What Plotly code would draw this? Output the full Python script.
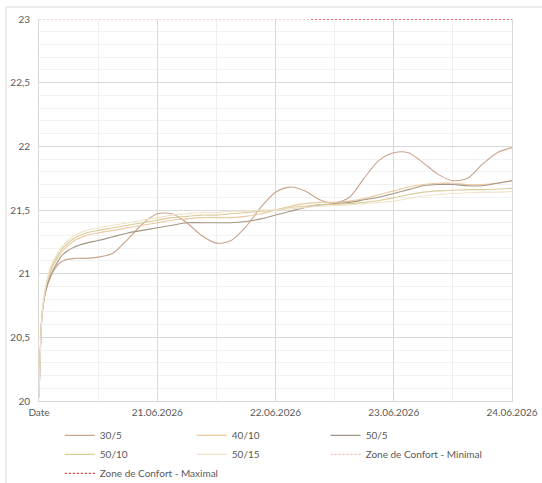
import plotly.graph_objects as go

# time in days from the start ("Date") to 24.06.2026
days = [0, 0.01, 0.02, 0.035, 0.06, 0.1, 0.15, 0.2, 0.3, 0.4, 0.5, 0.625, 0.75, 0.875,
        1.0, 1.125, 1.25, 1.375, 1.5, 1.625, 1.75, 1.875, 2.0, 2.125, 2.25, 2.375, 2.5,
        2.625, 2.75, 2.875, 3.0, 3.125, 3.25, 3.375, 3.5, 3.625, 3.75, 3.875, 4.0]

s_30_5 = [20.03, 20.35, 20.6, 20.75, 20.87, 20.98, 21.06, 21.10, 21.12, 21.12, 21.13, 21.16, 21.27, 21.39,
          21.47, 21.47, 21.40, 21.30, 21.24, 21.26, 21.37, 21.52, 21.64, 21.68, 21.65, 21.58, 21.555,
          21.60, 21.75, 21.89, 21.95, 21.95, 21.87, 21.78, 21.73, 21.75, 21.86, 21.95, 21.99]
s_40_10 = [20.03, 20.35, 20.6, 20.76, 20.90, 21.02, 21.11, 21.18, 21.26, 21.30, 21.32, 21.34, 21.36, 21.38,
           21.40, 21.42, 21.43, 21.44, 21.44, 21.44, 21.45, 21.47, 21.50, 21.53, 21.55, 21.56, 21.56,
           21.57, 21.59, 21.62, 21.65, 21.68, 21.70, 21.71, 21.71, 21.70, 21.70, 21.71, 21.73]
s_50_5 = [20.03, 20.35, 20.6, 20.75, 20.88, 20.99, 21.08, 21.15, 21.21, 21.24, 21.26, 21.29, 21.32, 21.34,
          21.36, 21.38, 21.40, 21.40, 21.40, 21.40, 21.41, 21.43, 21.46, 21.49, 21.52, 21.54, 21.55,
          21.56, 21.58, 21.60, 21.63, 21.66, 21.69, 21.70, 21.70, 21.69, 21.69, 21.71, 21.73]
s_50_10 = [20.03, 20.35, 20.6, 20.76, 20.91, 21.04, 21.13, 21.20, 21.28, 21.32, 21.34, 21.36, 21.38, 21.40,
           21.42, 21.44, 21.45, 21.46, 21.46, 21.47, 21.48, 21.49, 21.50, 21.52, 21.53, 21.54, 21.545,
           21.55, 21.56, 21.575, 21.595, 21.62, 21.64, 21.65, 21.655, 21.66, 21.66, 21.665, 21.67]
s_50_15 = [20.03, 20.35, 20.6, 20.77, 20.92, 21.06, 21.15, 21.22, 21.30, 21.34, 21.36, 21.38, 21.40, 21.42,
           21.44, 21.46, 21.47, 21.48, 21.48, 21.49, 21.49, 21.50, 21.50, 21.51, 21.52, 21.53, 21.535,
           21.54, 21.55, 21.56, 21.57, 21.59, 21.61, 21.62, 21.63, 21.635, 21.64, 21.64, 21.645]

zone_min_x = [0, 4]
zone_min_y = [23, 23]
zone_max_x = [2.3, 4]
zone_max_y = [23, 23]

x_tickvals = [0, 1, 2, 3, 4]
x_ticktext = ["Date", "21.06.2026", "22.06.2026", "23.06.2026", "24.06.2026"]
y_tickvals = [20, 20.5, 21, 21.5, 22, 22.5, 23]

# name, values, colour, legend column
series = [
    ("30/5", s_30_5, "#caa48c", "legend"),
    ("40/10", s_40_10, "#eac8a0", "legend2"),
    ("50/5", s_50_5, "#a49684", "legend3"),
    ("50/10", s_50_10, "#d9cd9a", "legend"),
    ("50/15", s_50_15, "#f1e3cb", "legend2"),
]

fig = go.Figure()
for name, vals, col, lg in series:
    fig.add_trace(go.Scatter(x=days, y=vals, name=name, mode="lines", legend=lg,
                             line=dict(color=col, width=1.1, shape="spline", smoothing=0.8)))

fig.add_trace(go.Scatter(x=zone_min_x, y=zone_min_y, name="Zone de Confort - Minimal", mode="lines",
                         legend="legend3",
                         line=dict(color="#f4a8a8", width=1, dash="2px,2px"), cliponaxis=False))
fig.add_trace(go.Scatter(x=zone_max_x, y=zone_max_y, name="Zone de Confort - Maximal", mode="lines",
                         legend="legend",
                         line=dict(color="#ec3a3a", width=1.3, dash="2px,2px"), cliponaxis=False))

axis_font = dict(family="Lato, Open Sans, sans-serif", size=10, color="#595959")
leg_font = dict(family="Lato, Open Sans, sans-serif", size=10, color="#595959")


def leg(xp):
    return dict(orientation="v", x=xp, y=-0.052, xanchor="left", yanchor="top",
                font=leg_font, itemwidth=30, tracegroupgap=0, bgcolor="rgba(0,0,0,0)",
                traceorder="normal")


fig.update_layout(
    width=542, height=483, autosize=False,
    margin=dict(l=39, r=30, t=19, b=82, autoexpand=False),
    paper_bgcolor="white", plot_bgcolor="white",
    separators=", ",
    showlegend=True,
    legend=leg(0.044),
    legend2=leg(0.323),
    legend3=leg(0.606),
    xaxis=dict(range=[0, 4], tickvals=x_tickvals, ticktext=x_ticktext, tickfont=axis_font,
               showgrid=True, gridcolor="#d9d9d9", gridwidth=1,
               minor=dict(dtick=0.5, tick0=0, showgrid=True, gridcolor="#efefef", gridwidth=1),
               showline=True, linecolor="#d9d9d9", linewidth=1,
               zeroline=False, ticks="outside", ticklen=2, tickcolor="white"),
    yaxis=dict(range=[20, 23], tickvals=y_tickvals, tickfont=axis_font,
               showgrid=True, gridcolor="#d9d9d9", gridwidth=1,
               minor=dict(dtick=0.1, tick0=20, showgrid=True, gridcolor="#f2f2f2", gridwidth=1),
               showline=True, mirror=True, linecolor="#d9d9d9", linewidth=1,
               zeroline=False, ticks="outside", ticklen=6, tickcolor="white"),
    shapes=[dict(type="rect", xref="paper", yref="paper", x0=-0.0698, x1=1.2, y0=-0.3, y1=1.0314,
                 line=dict(color="#d9d9d9", width=1), fillcolor="rgba(0,0,0,0)", layer="below")],
)

fig.write_html("out.html", config={"displayModeBar": False},
               post_script="document.body.style.margin='0';document.body.style.padding='0';")
